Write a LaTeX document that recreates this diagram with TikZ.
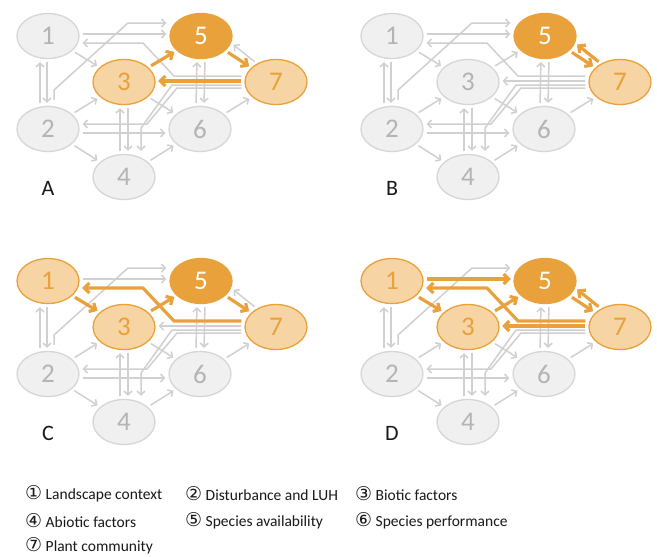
\documentclass[tikz,border=0pt]{standalone}
\usepackage{fontspec}
\setmainfont{Carlito}
\newfontfamily\circfont{DejaVu Sans}
\usetikzlibrary{arrows.meta,calc,shapes.geometric}
\definecolor{orA}{RGB}{233,162,59}
\definecolor{orL}{RGB}{246,212,163}
\definecolor{gyF}{RGB}{240,240,240}
\definecolor{gyB}{RGB}{214,214,214}
\definecolor{gyT}{RGB}{180,180,180}
\definecolor{gyE}{RGB}{208,208,208}
\definecolor{txt}{RGB}{25,25,25}
\tikzset{
 base/.style={ellipse, minimum width=62pt, minimum height=45pt, inner sep=0pt,
   font=\fontsize{27}{27}\selectfont, line width=1.3pt},
 gnode/.style={base, draw=gyB, fill=gyF, text=gyT},
 lnode/.style={base, draw=orA, fill=orL, text=orA},
 dnode/.style={base, draw=orA, fill=orA, text=white},
 gedge/.style={draw=gyE, line width=1.5pt, line join=round,
   -{Straight Barb[length=3.8pt,width=8pt]}, shorten >=3pt, shorten <=3pt},
 oedge/.style={draw=orA, line width=3.2pt, line join=round,
   -{Straight Barb[length=5pt,width=10pt]}, shorten >=2.5pt, shorten <=3pt},
 plabel/.style={font=\fontsize{22}{22}\selectfont, text=txt},
 legend/.style={anchor=west, font=\fontsize{15.5}{15.5}\selectfont, inner sep=0pt, text=txt},
}
\newcommand\cn[1]{{\circfont\fontsize{19}{19}\selectfont #1}}
\newcommand\edOneFive[1]{\draw[#1] ([yshift=2pt]n1.east) -- ([yshift=2pt]n5.west);}
\newcommand\edSevenOne[1]{\draw[#1] ([yshift=6pt]n7.west) -- (174,76) -- (143,43) -- ([yshift=-7pt]n1.east);}
\newcommand\edTwoFive[1]{\draw[#1] ([xshift=6pt,yshift=3pt]n2.north) -- (54,90) -- (128,23) -- ([yshift=13pt]n5.west);}
\newcommand\edTwoOne[1]{\draw[#1] ([xshift=-8pt]n2.north) -- ([xshift=-8pt]n1.south);}
\newcommand\edOneTwo[1]{\draw[#1] ([xshift=-1pt]n1.south) -- ([xshift=-1pt]n2.north);}
\newcommand\edOneThree[1]{\draw[#1] (n1) -- (n3);}
\newcommand\edTwoThree[1]{\draw[#1] (n2) -- (n3);}
\newcommand\edTwoFour[1]{\draw[#1] (n2) -- (n4);}
\newcommand\edTwoSix[1]{\draw[#1] ([yshift=-4pt]n2.east) -- ([yshift=-4pt]n6.west);}
\newcommand\edThreeFive[1]{\draw[#1] (n3) -- (n5);}
\newcommand\edThreeSix[1]{\draw[#1] (n3) -- (n6);}
\newcommand\edFourThree[1]{\draw[#1] ([xshift=-4pt]n4.north) -- ([xshift=-4pt]n3.south);}
\newcommand\edThreeFour[1]{\draw[#1] ([xshift=4pt]n3.south) -- ([xshift=4pt]n4.north);}
\newcommand\edFourSix[1]{\draw[#1] (n4) -- (n6);}
\newcommand\edSixFive[1]{\draw[#1] ([xshift=-4pt]n6.north) -- ([xshift=-4pt]n5.south);}
\newcommand\edFiveSix[1]{\draw[#1] ([xshift=4pt]n5.south) -- ([xshift=4pt]n6.north);}
\newcommand\edSixSeven[1]{\draw[#1] (n6) -- (n7);}
\newcommand\edFiveSeven[1]{\draw[#1] (n5.-31) -- (n7.150);}
\newcommand\edSevenFive[1]{\draw[#1] (n7.136) -- (n5.-13);}
\newcommand\edSevenThree[1]{\draw[#1] ([yshift=1pt]n7.west) -- ([yshift=1pt]n3.east);}
\newcommand\edSevenFour[1]{\draw[#1] ([yshift=-3pt]n7.west) -- (172,85) -- (141,128) -- ([xshift=17pt]n4.north);}
\newcommand\edSevenTwo[1]{\draw[#1] ([yshift=-6pt]n7.west) -- (177,88) -- (147,124) -- ([yshift=5pt]n2.east);}
% #1 prefix, #2 shift, #3 style of node 1, #4 style of node 3, #5 label, #6 highlighted edges
\newcommand\drawpanel[6]{%
\begin{scope}[shift={#2}, name prefix=#1-]
 \node[#3] (n1) at (48,36) {1};
 \node[gnode] (n2) at (48,129) {2};
 \node[#4] (n3) at (124,82) {3};
 \node[gnode] (n4) at (124,177) {4};
 \node[dnode] (n5) at (201,36) {5};
 \node[gnode] (n6) at (200,129) {6};
 \node[lnode] (n7) at (276,82) {7};
 \node[plabel] (lab) at (48,188) {#5};
 \edOneFive{gedge}\edSevenOne{gedge}\edTwoFive{gedge}\edTwoOne{gedge}\edOneTwo{gedge}
 \edOneThree{gedge}\edTwoThree{gedge}\edTwoFour{gedge}\edTwoSix{gedge}\edThreeFive{gedge}
 \edThreeSix{gedge}\edFourThree{gedge}\edThreeFour{gedge}\edFourSix{gedge}\edSixFive{gedge}
 \edFiveSix{gedge}\edSixSeven{gedge}\edFiveSeven{gedge}\edSevenFive{gedge}\edSevenThree{gedge}
 \edSevenFour{gedge}\edSevenTwo{gedge}
 #6
\end{scope}}
\begin{document}
\begin{tikzpicture}[x=1pt,y=-1pt]
\useasboundingbox[fill=white] (0,0) rectangle (657,557);
\drawpanel{A}{(0,0)}{gnode}{lnode}{A}{\edThreeFive{oedge}\edFiveSeven{oedge}\edSevenThree{oedge}}
\drawpanel{B}{(344,0)}{gnode}{gnode}{B}{\edFiveSeven{oedge}\edSevenFive{oedge}}
\drawpanel{C}{(0,245)}{lnode}{lnode}{C}{\edOneThree{oedge}\edThreeFive{oedge}\edFiveSeven{oedge}\edSevenOne{oedge}}
\drawpanel{D}{(344,245)}{lnode}{lnode}{D}{\edOneThree{oedge}\edOneFive{oedge}\edThreeFive{oedge}\edFiveSeven{oedge}\edSevenFive{oedge}\edSevenOne{oedge}\edSevenThree{oedge}}
\node[legend] (L1) at (25,494) {\cn{①} Landscape context};
\node[legend] (L2) at (185,494) {\cn{②} Disturbance and LUH};
\node[legend] (L3) at (355,494) {\cn{③} Biotic factors};
\node[legend] (L4) at (25,521) {\cn{④} Abiotic factors};
\node[legend] (L5) at (185,521) {\cn{⑤} Species availability};
\node[legend] (L6) at (355,521) {\cn{⑥} Species performance};
\node[legend] (L7) at (25,546) {\cn{⑦} Plant community};
\end{tikzpicture}
\end{document}
